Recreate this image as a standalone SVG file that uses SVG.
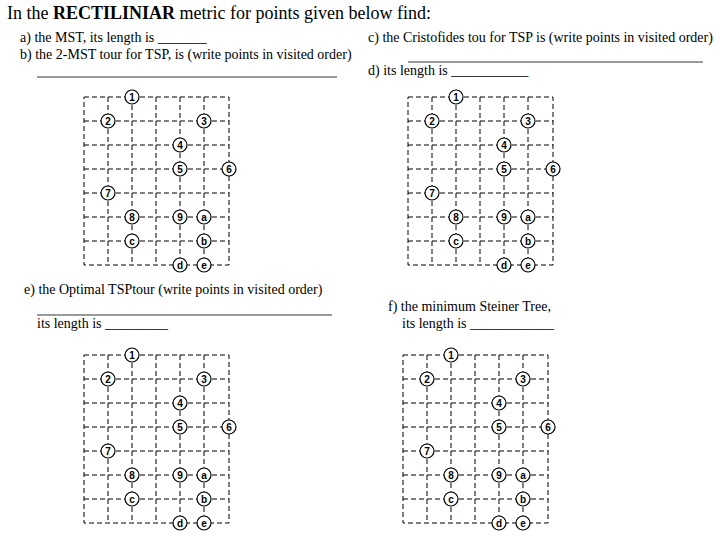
<svg xmlns="http://www.w3.org/2000/svg" xmlns:xlink="http://www.w3.org/1999/xlink" width="720" height="540" viewBox="0 0 720 540">
<style>
.t{font-family:"Liberation Serif","Times New Roman",serif;font-size:14px;fill:#000}
.g{stroke:#000;stroke-width:1;stroke-dasharray:5,3;fill:none}
.u{stroke:#000;stroke-width:0.8}
.p circle{fill:#fff;stroke:#000;stroke-width:1.2}
.p text{font-family:"Liberation Sans",sans-serif;font-size:10px;text-anchor:middle;font-weight:bold}
</style>
<defs>
<g id="grid">
<path class="g" d="M0 0H145V168H0ZM24 0V168M48 0V168M72 0V168M96 0V168M120 0V168M0 24H145M0 48H145M0 72H145M0 96H145M0 120H145M0 144H145"/>
<g class="p">
<circle cx="48" cy="0" r="7"/><text x="48" y="4">1</text>
<circle cx="24" cy="24" r="7"/><text x="24" y="28">2</text>
<circle cx="120" cy="24" r="7"/><text x="120" y="28">3</text>
<circle cx="96" cy="48" r="7"/><text x="96" y="52">4</text>
<circle cx="96" cy="72" r="7"/><text x="96" y="76">5</text>
<circle cx="145" cy="72" r="7"/><text x="145" y="76">6</text>
<circle cx="24" cy="96" r="7"/><text x="24" y="100">7</text>
<circle cx="48" cy="120" r="7"/><text x="48" y="124">8</text>
<circle cx="96" cy="120" r="7"/><text x="96" y="124">9</text>
<circle cx="120" cy="120" r="7"/><text x="120" y="124">a</text>
<circle cx="48" cy="144" r="7"/><text x="48" y="148">c</text>
<circle cx="120" cy="144" r="7"/><text x="120" y="148">b</text>
<circle cx="96" cy="168" r="7"/><text x="96" y="172">d</text>
<circle cx="120" cy="168" r="7"/><text x="120" y="172">e</text>
</g>
</g>
</defs>
<text x="7" y="19" style="font-family:'Liberation Serif',serif;font-size:18px">In the <tspan font-weight="bold">RECTILINIAR</tspan> metric for points given below find:</text>
<text class="t" x="20" y="42">a) the MST, its length is _______</text>
<text class="t" x="20" y="59">b) the 2-MST tour for TSP, is (write points in visited order)</text>
<line class="u" x1="37" y1="77" x2="337" y2="77"/>
<text class="t" x="368" y="42">c) the Cristofides tou for TSP is (write points in visited order)</text>
<line class="u" x1="408" y1="62" x2="703" y2="62"/>
<text class="t" x="368" y="75">d) its length is ___________</text>
<text class="t" x="24" y="294">e) the Optimal TSPtour (write points in visited order)</text>
<line class="u" x1="37" y1="315" x2="332" y2="315"/>
<text class="t" x="37" y="328">its length is _________</text>
<text class="t" x="388" y="311">f) the minimum Steiner Tree,</text>
<text class="t" x="402" y="328">its length is ____________</text>
<g id="grid1" transform="translate(84,97)"><use xlink:href="#grid"/></g>
<g id="grid2" transform="translate(408,97)"><use xlink:href="#grid"/></g>
<g id="grid3" transform="translate(84,355)"><use xlink:href="#grid"/></g>
<g id="grid4" transform="translate(403,355)"><use xlink:href="#grid"/></g>
</svg>
